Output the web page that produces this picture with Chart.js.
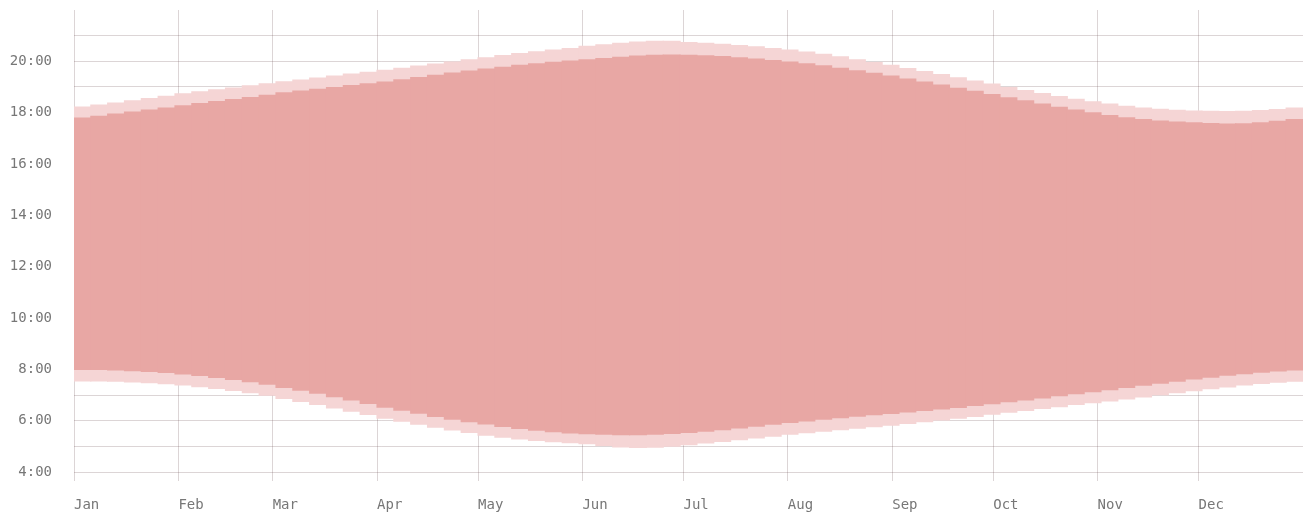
<!DOCTYPE html>
<html>
<head>
<meta charset="utf-8">
<script src="https://cdn.jsdelivr.net/npm/chart.js@4/dist/chart.umd.min.js"></script>
<style>
  body { margin: 0; background: #fff; }
  #wrap { width: 1306px; height: 518px; position: relative; }
</style>
</head>
<body>
<div id="wrap"><canvas id="sunChart"></canvas></div>
<script>
// month labels and the day of year each month starts on
const months = ['Jan', 'Feb', 'Mar', 'Apr', 'May', 'Jun', 'Jul', 'Aug', 'Sep', 'Oct', 'Nov', 'Dec'];
const monthStarts = [0, 31, 59, 90, 120, 151, 181, 212, 243, 273, 304, 334];

// first day of each 5-day slice
const days = [0,5,10,15,20,25,30,35,40,45,50,55,60,65,70,75,80,85,90,95,100,105,110,115,120,125,130,135,140,145,
  150,155,160,165,170,175,180,185,190,195,200,205,210,215,220,225,230,235,240,245,250,255,260,265,270,275,280,285,
  290,295,300,305,310,315,320,325,330,335,340,345,350,355,360];

// hours (decimal)
const sunrise = [8.00,8.00,7.98,7.95,7.92,7.88,7.82,7.76,7.69,7.61,7.52,7.42,7.30,7.19,7.07,6.94,6.81,6.67,6.53,6.41,
  6.29,6.17,6.06,5.96,5.87,5.78,5.70,5.63,5.57,5.52,5.49,5.47,5.46,5.46,5.47,5.50,5.54,5.59,5.65,5.72,
  5.79,5.86,5.93,5.99,6.06,6.12,6.18,6.23,6.28,6.34,6.40,6.46,6.52,6.59,6.66,6.74,6.81,6.89,6.97,7.05,
  7.13,7.21,7.30,7.38,7.46,7.54,7.63,7.70,7.77,7.83,7.89,7.94,7.98];
const sunset = [17.79,17.86,17.94,18.02,18.10,18.18,18.27,18.35,18.43,18.51,18.59,18.67,18.77,18.84,18.91,18.98,19.05,19.12,19.19,19.28,
  19.37,19.45,19.54,19.62,19.70,19.77,19.84,19.90,19.96,20.01,20.06,20.11,20.16,20.20,20.23,20.24,20.23,20.21,20.18,20.14,
  20.09,20.03,19.97,19.90,19.82,19.73,19.63,19.53,19.42,19.31,19.19,19.07,18.95,18.83,18.70,18.58,18.46,18.33,18.21,18.10,
  17.99,17.89,17.80,17.73,17.67,17.63,17.60,17.57,17.55,17.56,17.60,17.66,17.73];
const dawn = [7.55,7.55,7.54,7.51,7.48,7.44,7.39,7.33,7.26,7.18,7.09,6.99,6.87,6.75,6.63,6.50,6.37,6.24,6.10,5.98,
  5.86,5.75,5.64,5.54,5.44,5.36,5.29,5.23,5.18,5.14,5.10,5.04,4.98,4.96,4.97,5.01,5.07,5.13,5.19,5.26,
  5.33,5.40,5.47,5.53,5.59,5.65,5.71,5.77,5.83,5.89,5.96,6.03,6.10,6.17,6.25,6.33,6.40,6.48,6.55,6.63,
  6.70,6.77,6.85,6.93,7.01,7.09,7.17,7.25,7.32,7.39,7.45,7.50,7.54];
const dusk = [18.22,18.29,18.37,18.46,18.55,18.64,18.73,18.81,18.89,18.96,19.04,19.12,19.20,19.27,19.35,19.42,19.50,19.57,19.65,19.73,
  19.81,19.89,19.97,20.06,20.14,20.22,20.30,20.37,20.44,20.50,20.58,20.64,20.70,20.75,20.78,20.78,20.73,20.70,20.66,20.61,
  20.56,20.50,20.44,20.36,20.27,20.17,20.06,19.95,19.84,19.72,19.60,19.48,19.36,19.23,19.11,18.98,18.86,18.74,18.63,18.52,
  18.42,18.33,18.25,18.18,18.13,18.09,18.06,18.05,18.04,18.05,18.08,18.12,18.18];

const sliceDays = 5;
const gridColor = 'rgba(110, 80, 85, 0.24)';
const tickFont = { family: '"DejaVu Sans Mono", monospace', size: 14 };

const daylightData = days.map((d, i) => ({ x: d + sliceDays / 2, y: [sunrise[i], sunset[i]] }));
const twilightData = days.map((d, i) => ({ x: d + sliceDays / 2, y: [dawn[i], dusk[i]] }));

const ctx = document.getElementById('sunChart').getContext('2d');
new Chart(ctx, {
    type: 'bar',
    data: {
        datasets: [
            {
                label: 'Daylight',
                data: daylightData,
                backgroundColor: '#e8a7a4',
                borderWidth: 0,
                barPercentage: 1,
                categoryPercentage: 1,
                inflateAmount: 0.6,
                grouped: false,
                order: 0
            },
            {
                label: 'Twilight',
                data: twilightData,
                backgroundColor: '#f5d5d5',
                borderWidth: 0,
                barPercentage: 1,
                categoryPercentage: 1,
                inflateAmount: 0.6,
                grouped: false,
                order: 1
            }
        ]
    },
    options: {
        responsive: true,
        maintainAspectRatio: false,
        animation: false,
        layout: { padding: { left: 0, right: 3, top: 10, bottom: 0 } },
        plugins: { legend: { display: false }, tooltip: { enabled: false } },
        scales: {
            x: {
                type: 'linear',
                min: 0,
                max: 365,
                offset: false,
                z: 1,
                border: { display: false },
                grid: { color: gridColor, offset: false, drawTicks: true, tickLength: 9, tickColor: gridColor },
                afterBuildTicks: (scale) => {
                    scale.ticks = monthStarts.map(v => ({ value: v }));
                },
                afterFit: (scale) => {
                    scale.height = 46;
                    scale.paddingLeft = 0;
                    scale.paddingRight = 0;
                },
                ticks: {
                    autoSkip: false,
                    maxRotation: 0,
                    align: 'start',
                    padding: 16,
                    color: '#777',
                    font: tickFont,
                    callback: (value) => months[monthStarts.indexOf(value)]
                }
            },
            y: {
                min: 4,
                max: 22,
                z: 1,
                border: { display: false },
                grid: {
                    color: (c) => (c.tick && c.tick.value === 22) ? 'rgba(0,0,0,0)' : gridColor,
                    drawTicks: false
                },
                afterFit: (scale) => {
                    scale.width = 74;
                    scale.paddingTop = 0;
                    scale.paddingBottom = 0;
                },
                ticks: {
                    stepSize: 1,
                    padding: 22,
                    color: '#777',
                    font: tickFont,
                    callback: (value) => (value % 2 === 0 && value < 22) ? value + ':00' : ''
                }
            }
        }
    }
});
</script>
</body>
</html>
